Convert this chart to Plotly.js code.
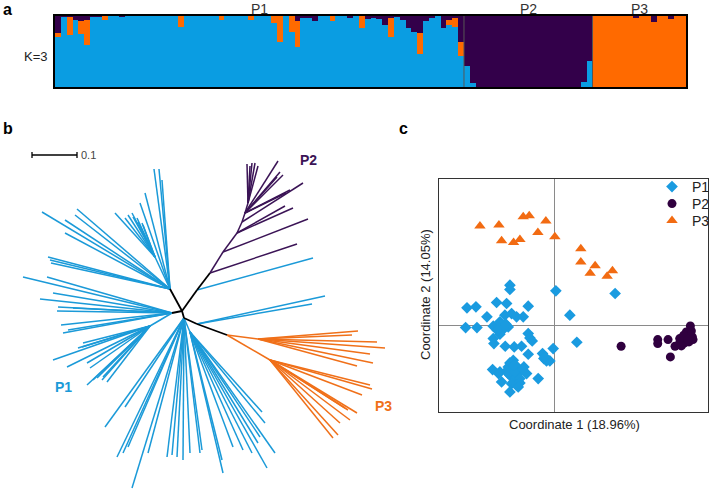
<!DOCTYPE html>
<html>
<head>
<meta charset="utf-8">
<script src="https://cdn.plot.ly/plotly-3.0.1.min.js"></script>
<style>html,body{margin:0;padding:0;background:#fff;}#chart{width:711px;height:496px;}</style>
</head>
<body>
<div id="chart"></div>
<script>
// ---------- Panel a: STRUCTURE K=3 membership ----------
const popNames = ["P1", "P2", "P3"];
const p1Purple = [0.24,0.02,0.02,0.05,0.07,0.06,0.02,0.02,0,0,
  0,0.01,0,0,0,0,0,0,0,0,
  0,0,0,0,0,0,0,0,0,0,
  0,0,0,0,0,0,0,0,0,0,
  0,0.07,0.03,0.03,0.07,0,0,0,0,0,
  0.03,0,0,0.04,0.03,0.04,0.12,0.03,0.02,0.05,
  0.17,0.22,0.24,0.07,0.03,0,0.17,0.05,0.03,0.37];
const p1Orange = [0.05,0,0.25,0,0.18,0.35,0,0,0.05,0,
  0,0,0,0,0,0,0,0,0,0,
  0,0.16,0,0,0,0,0,0,0.06,0,
  0,0,0,0.06,0,0,0,0.10,0.37,0,
  0.22,0.37,0,0,0,0,0,0.07,0,0,
  0,0,0.17,0,0,0,0,0.27,0,0,
  0,0,0.29,0,0,0,0,0.07,0.12,0.20];
const p2Blue = [0.29,0.05,0,0,0,0,0,0,0,0,0,0,0,0,0,0,0,0,0,0,0.07,0.37];
const p3Purple = [0,0,0,0,0,0,0,0.03,0,0,0.08,0,0,0.04,0,0];

// ---------- Panel b: unrooted tree (node positions, tree-plot units) ----------
// internal nodes: x, y, parent index, clade (0 stem, 1 P1, 2 P2, 3 P3)
const nodeX      = [182,170,155,172,150,184,197,210,223,237,242,245,248,197,227,258,270,190];
const nodeY      = [311,289,257,313,326,318,290,273,252,233,222,213,203,324,335,339,360,332];
const nodeParent = [-1, 0,  1,  0,  3,  0,  0,  6,  7,  8,  9, 10, 11,  5, 13, 14, 14,  5];
const nodeClade  = [ 0, 0,  1,  0,  1,  0,  0,  0,  2,  2,  2,  2,  2,  0,  0,  3,  3,  1];

const p1TipX = [154,159,162,145,140,42,77,75,65,65,48,50,51,
  115,125,128,132,133,137,138,142,143,
  23,47,53,40,58,57,73,61,63,68,
  53,67,82,83,78,87,90,87,93,97,102,107,103,
  105,117,128,132,123,148,167,172,177,183,190,200,202,125,
  223,222,233,243,260,265,275,267,252,258,262,
  313,325,312];
const p1TipY = [169,169,180,193,203,212,209,215,220,233,257,260,263,
  213,218,215,213,217,218,222,223,225,
  277,277,293,299,307,311,308,325,333,330,
  360,367,347,343,348,363,368,385,380,378,380,382,377,
  427,457,447,488,453,453,457,455,457,460,453,453,450,407,
  473,460,447,450,437,423,453,468,453,443,412,
  258,296,304];
const p1TipParent = [1,1,1,1,1,1,1,1,1,1,1,1,1,
  2,2,2,2,2,2,2,2,2,
  3,3,3,3,3,3,3,3,3,3,
  4,4,4,4,4,4,4,4,4,4,4,4,4,
  5,5,5,5,5,5,5,5,5,5,5,5,5,5,
  17,17,17,17,17,17,17,17,17,17,17,
  6,13,13];
const p2TipX = [297,308,293,285,303,278,280,277,283,290,286,247,250,252,255,258];
const p2TipY = [244,219,208,206,183,161,172,177,175,190,193,164,166,163,163,166];
const p2TipParent = [7,8,9,9,10,11,11,11,11,11,11,12,12,12,12,12];
const p3TipX = [358,352,377,385,370,373,357,370,372,362,357,348,350,340,338,333,345];
const p3TipY = [331,335,342,348,354,363,366,385,389,395,413,410,420,423,435,438,408];
const p3TipParent = [15,15,15,15,15,15,15,16,16,16,16,16,16,16,16,16,16];

// ---------- Panel c: PCoA ----------
const p1CoordX = [-1.33,-1.33,0.05,1.83,-2.62,-2.35,-1.73,-1.43,-0.78,-2.02,-1.48,-1.28,-1.13,-0.93,0.47,
  -2.66,-2.32,-1.83,-1.68,-1.63,-1.58,-1.38,-1.63,-1.81,-0.78,-0.73,-0.66,-1.47,-1.20,-0.98,-0.03,0.68,
  -0.78,-0.35,-0.31,-0.23,-0.13,-0.28,-1.33,-1.23,-1.38,-1.25,-1.11,-1.03,-0.91,-1.85,-1.63,-1.67,-1.41,
  -1.33,-1.18,-1.03,-0.83,-0.48,-1.58,-1.28,-1.13,-1.03,-1.33,-1.38,-1.18,-1.08,-1.53,-1.71,-1.45,-1.83,-1.21,-0.95];
const p1CoordY = [1.20,1.07,1.03,0.95,0.52,0.55,0.68,0.65,0.57,0.25,0.30,0.35,0.25,0.25,0.30,
  -0.07,-0.07,-0.03,-0.05,0.10,-0.17,-0.05,-0.27,-0.55,-0.25,-0.38,-0.47,-0.63,-0.65,-0.63,-0.70,-0.51,
  -0.87,-0.85,-1.00,-1.07,-1.07,-0.95,-1.13,-1.05,-1.25,-1.32,-1.25,-1.38,-1.25,-1.33,-1.40,-1.45,-1.35,
  -1.50,-1.55,-1.60,-1.45,-1.60,-1.70,-1.75,-1.80,-1.73,-2.00,-1.45,-1.40,-1.85,-0.10,-0.15,0.03,-0.40,-1.20,-1.33];
const p2CoordX = [2.01,3.11,3.11,3.42,3.49,3.63,3.75,3.87,3.97,4.03,4.09,4.12,4.05,4.15,4.17,3.92,3.82,3.97,4.09,3.77,3.89,4.02];
const p2CoordY = [-0.63,-0.43,-0.55,-0.43,-0.95,-0.63,-0.57,-0.47,-0.37,-0.25,-0.02,-0.17,-0.50,-0.35,-0.43,-0.53,-0.62,-0.20,-0.30,-0.40,-0.30,-0.43];
const p3CoordX = [-2.23,-1.66,-1.58,-1.22,-1.03,-0.93,-0.75,-0.49,-0.25,0.02,0.80,0.80,1.08,1.23,1.59,1.75];
const p3CoordY = [2.97,3.00,2.53,2.48,2.57,3.25,3.28,2.78,3.12,2.65,2.29,1.89,1.56,1.78,1.47,1.63];

// ---------- colours ----------
const barBlue = "#0a9de2", barOrange = "#ff6a00", barPurple = "#33004a";
const treeColors = ["#000000", "#1b9ad8", "#3b1456", "#f07019"];
const ptColors = ["#1a9be0", "#30003f", "#f26b12"];

// ---------- build panel a series ----------
const nP1 = p1Purple.length, nP2 = p2Blue.length, nP3 = p3Purple.length;
const idx = [], qBlue = [], qOrange = [], qPurple = [];
for (let i = 0; i < nP1; i++) { qOrange.push(p1Orange[i]); qPurple.push(p1Purple[i]); qBlue.push(1 - p1Orange[i] - p1Purple[i]); }
for (let i = 0; i < nP2; i++) { qBlue.push(p2Blue[i]); qOrange.push(0); qPurple.push(1 - p2Blue[i]); }
for (let i = 0; i < nP3; i++) { qBlue.push(0); qPurple.push(p3Purple[i]); qOrange.push(1 - p3Purple[i]); }
for (let i = 0; i < qBlue.length; i++) idx.push(i);
const nAll = idx.length;

const traces = [];
const barCommon = {type: "bar", x: idx, xaxis: "x", yaxis: "y", showlegend: false, hoverinfo: "skip"};
traces.push(Object.assign({}, barCommon, {y: qBlue, marker: {color: barBlue, line: {width: 0}}}));
traces.push(Object.assign({}, barCommon, {y: qOrange, marker: {color: barOrange, line: {width: 0}}}));
traces.push(Object.assign({}, barCommon, {y: qPurple, marker: {color: barPurple, line: {width: 0}}}));

// ---------- build panel b tree edges ----------
const edgeX = [[], [], [], []], edgeY = [[], [], [], []];
for (let i = 0; i < nodeX.length; i++) {
  const p = nodeParent[i];
  if (p < 0) continue;
  const c = nodeClade[i];
  edgeX[c].push(nodeX[p], nodeX[i], null);
  edgeY[c].push(nodeY[p], nodeY[i], null);
}
function addTips(tx, ty, tp, c) {
  for (let i = 0; i < tx.length; i++) {
    edgeX[c].push(nodeX[tp[i]], tx[i], null);
    edgeY[c].push(nodeY[tp[i]], ty[i], null);
  }
}
addTips(p1TipX, p1TipY, p1TipParent, 1);
addTips(p2TipX, p2TipY, p2TipParent, 2);
addTips(p3TipX, p3TipY, p3TipParent, 3);
[1, 2, 3, 0].forEach(c => {
  traces.push({type: "scatter", mode: "lines", x: edgeX[c], y: edgeY[c], xaxis: "x2", yaxis: "y2",
    line: {color: treeColors[c], width: c === 0 ? 1.8 : 1.5}, showlegend: false, hoverinfo: "skip"});
});

// ---------- panel c ----------
traces.push({type: "scatter", mode: "markers", name: "P1", x: p1CoordX, y: p1CoordY, xaxis: "x3", yaxis: "y3", legend: "legend",
  marker: {symbol: "diamond", size: 9, color: ptColors[0]}});
traces.push({type: "scatter", mode: "markers", name: "P2", x: p2CoordX, y: p2CoordY, xaxis: "x3", yaxis: "y3", legend: "legend2",
  marker: {symbol: "circle", size: 9, color: ptColors[1]}});
traces.push({type: "scatter", mode: "markers", name: "P3", x: p3CoordX, y: p3CoordY, xaxis: "x3", yaxis: "y3", legend: "legend3",
  marker: {symbol: "triangle-up", size: 10, color: ptColors[2]}});

const W = 711, H = 496;
const hidden = {showgrid: false, zeroline: false, showticklabels: false, ticks: "", showline: false};
const font = "Arial, 'Liberation Sans', sans-serif";
function legendAt(yPix) {
  return {x: 652/W, y: 1 - yPix/H, xanchor: "left", yanchor: "middle", bgcolor: "rgba(0,0,0,0)",
    font: {size: 14, color: "#222", family: font}, traceorder: "normal", itemwidth: 30};
}
function ann(text, x, y, size, color, extra) {
  return Object.assign({text: text, x: x, y: y, xref: "paper", yref: "paper", xanchor: "center", yanchor: "middle",
    showarrow: false, font: {size: size, color: color}}, extra || {});
}

const layout = {
  width: W, height: H, margin: {l: 0, r: 0, t: 0, b: 0, autoexpand: false},
  paper_bgcolor: "#ffffff", plot_bgcolor: "rgba(0,0,0,0)",
  font: {family: font, color: "#222", size: 13},
  barmode: "stack", bargap: 0,
  xaxis: Object.assign({}, hidden, {domain: [55/W, 686/W], range: [-0.5, nAll - 0.5], showline: true, mirror: true, linecolor: "#000", linewidth: 2}),
  yaxis: Object.assign({}, hidden, {domain: [1 - 87/H, 1 - 16/H], range: [0, 1], showline: true, mirror: true, linecolor: "#000", linewidth: 2}),
  xaxis2: Object.assign({}, hidden, {domain: [0, 420/W], range: [0, 420], anchor: "y2"}),
  yaxis2: Object.assign({}, hidden, {domain: [1 - 490/H, 1 - 110/H], range: [490, 110], anchor: "x2"}),
  xaxis3: Object.assign({}, hidden, {domain: [439/W, 708/W], range: [-3.46, 4.62], anchor: "y3",
    showline: true, mirror: true, linecolor: "#333", linewidth: 1.3, zeroline: true, zerolinecolor: "#8a8a8a", zerolinewidth: 1}),
  yaxis3: Object.assign({}, hidden, {domain: [1 - 412/H, 1 - 179/H], range: [-2.60, 4.38], anchor: "x3",
    showline: true, mirror: true, linecolor: "#333", linewidth: 1.3, zeroline: true, zerolinecolor: "#8a8a8a", zerolinewidth: 1}),
  showlegend: true,
  legend: legendAt(187),
  legend2: legendAt(204),
  legend3: legendAt(221),
  shapes: [
    {type: "line", xref: "x", yref: "y", x0: nP1 - 0.5, x1: nP1 - 0.5, y0: 0, y1: 1, line: {color: "#555", width: 1}},
    {type: "line", xref: "x", yref: "y", x0: nP1 + nP2 - 0.5, x1: nP1 + nP2 - 0.5, y0: 0, y1: 1, line: {color: "#555", width: 1}},
    {type: "line", xref: "x2", yref: "y2", x0: 32, x1: 77, y0: 155, y1: 155, line: {color: "#000", width: 1.3}},
    {type: "line", xref: "x2", yref: "y2", x0: 32, x1: 32, y0: 152, y1: 158, line: {color: "#000", width: 1.3}},
    {type: "line", xref: "x2", yref: "y2", x0: 77, x1: 77, y0: 152, y1: 158, line: {color: "#000", width: 1.3}}
  ],
  annotations: [
    ann("<b>a</b>", 7/W, 1 - 9/H, 16, "#000"),
    ann("<b>b</b>", 8/W, 1 - 128/H, 16, "#000"),
    ann("<b>c</b>", 403/W, 1 - 129/H, 16, "#000"),
    ann("K=3", 36/W, 1 - 56/H, 13, "#222"),
    ann(popNames[0], (nP1 - 1) / 2, 1 - 9/H, 14, "#333", {xref: "x"}),
    ann(popNames[1], nP1 + (nP2 - 1) / 2, 1 - 9/H, 14, "#333", {xref: "x"}),
    ann(popNames[2], nP1 + nP2 + (nP3 - 1) / 2, 1 - 9/H, 14, "#333", {xref: "x"}),
    ann("0.1", 79, 155, 11, "#444", {xref: "x2", yref: "y2", xanchor: "left"}),
    ann("<b>P2</b>", 308, 160, 14, treeColors[2], {xref: "x2", yref: "y2"}),
    ann("<b>P1</b>", 63, 387, 14, treeColors[1], {xref: "x2", yref: "y2"}),
    ann("<b>P3</b>", 383, 406, 14, treeColors[3], {xref: "x2", yref: "y2"}),
    ann("Coordinate 1 (18.96%)", 574/W, 1 - 424/H, 13, "#222"),
    ann("Coordinate 2 (14.05%)", 425/W, 1 - 294/H, 13, "#222", {textangle: -90})
  ]
};

Plotly.newPlot("chart", traces, layout, {staticPlot: true, displayModeBar: false});
</script>
</body>
</html>
